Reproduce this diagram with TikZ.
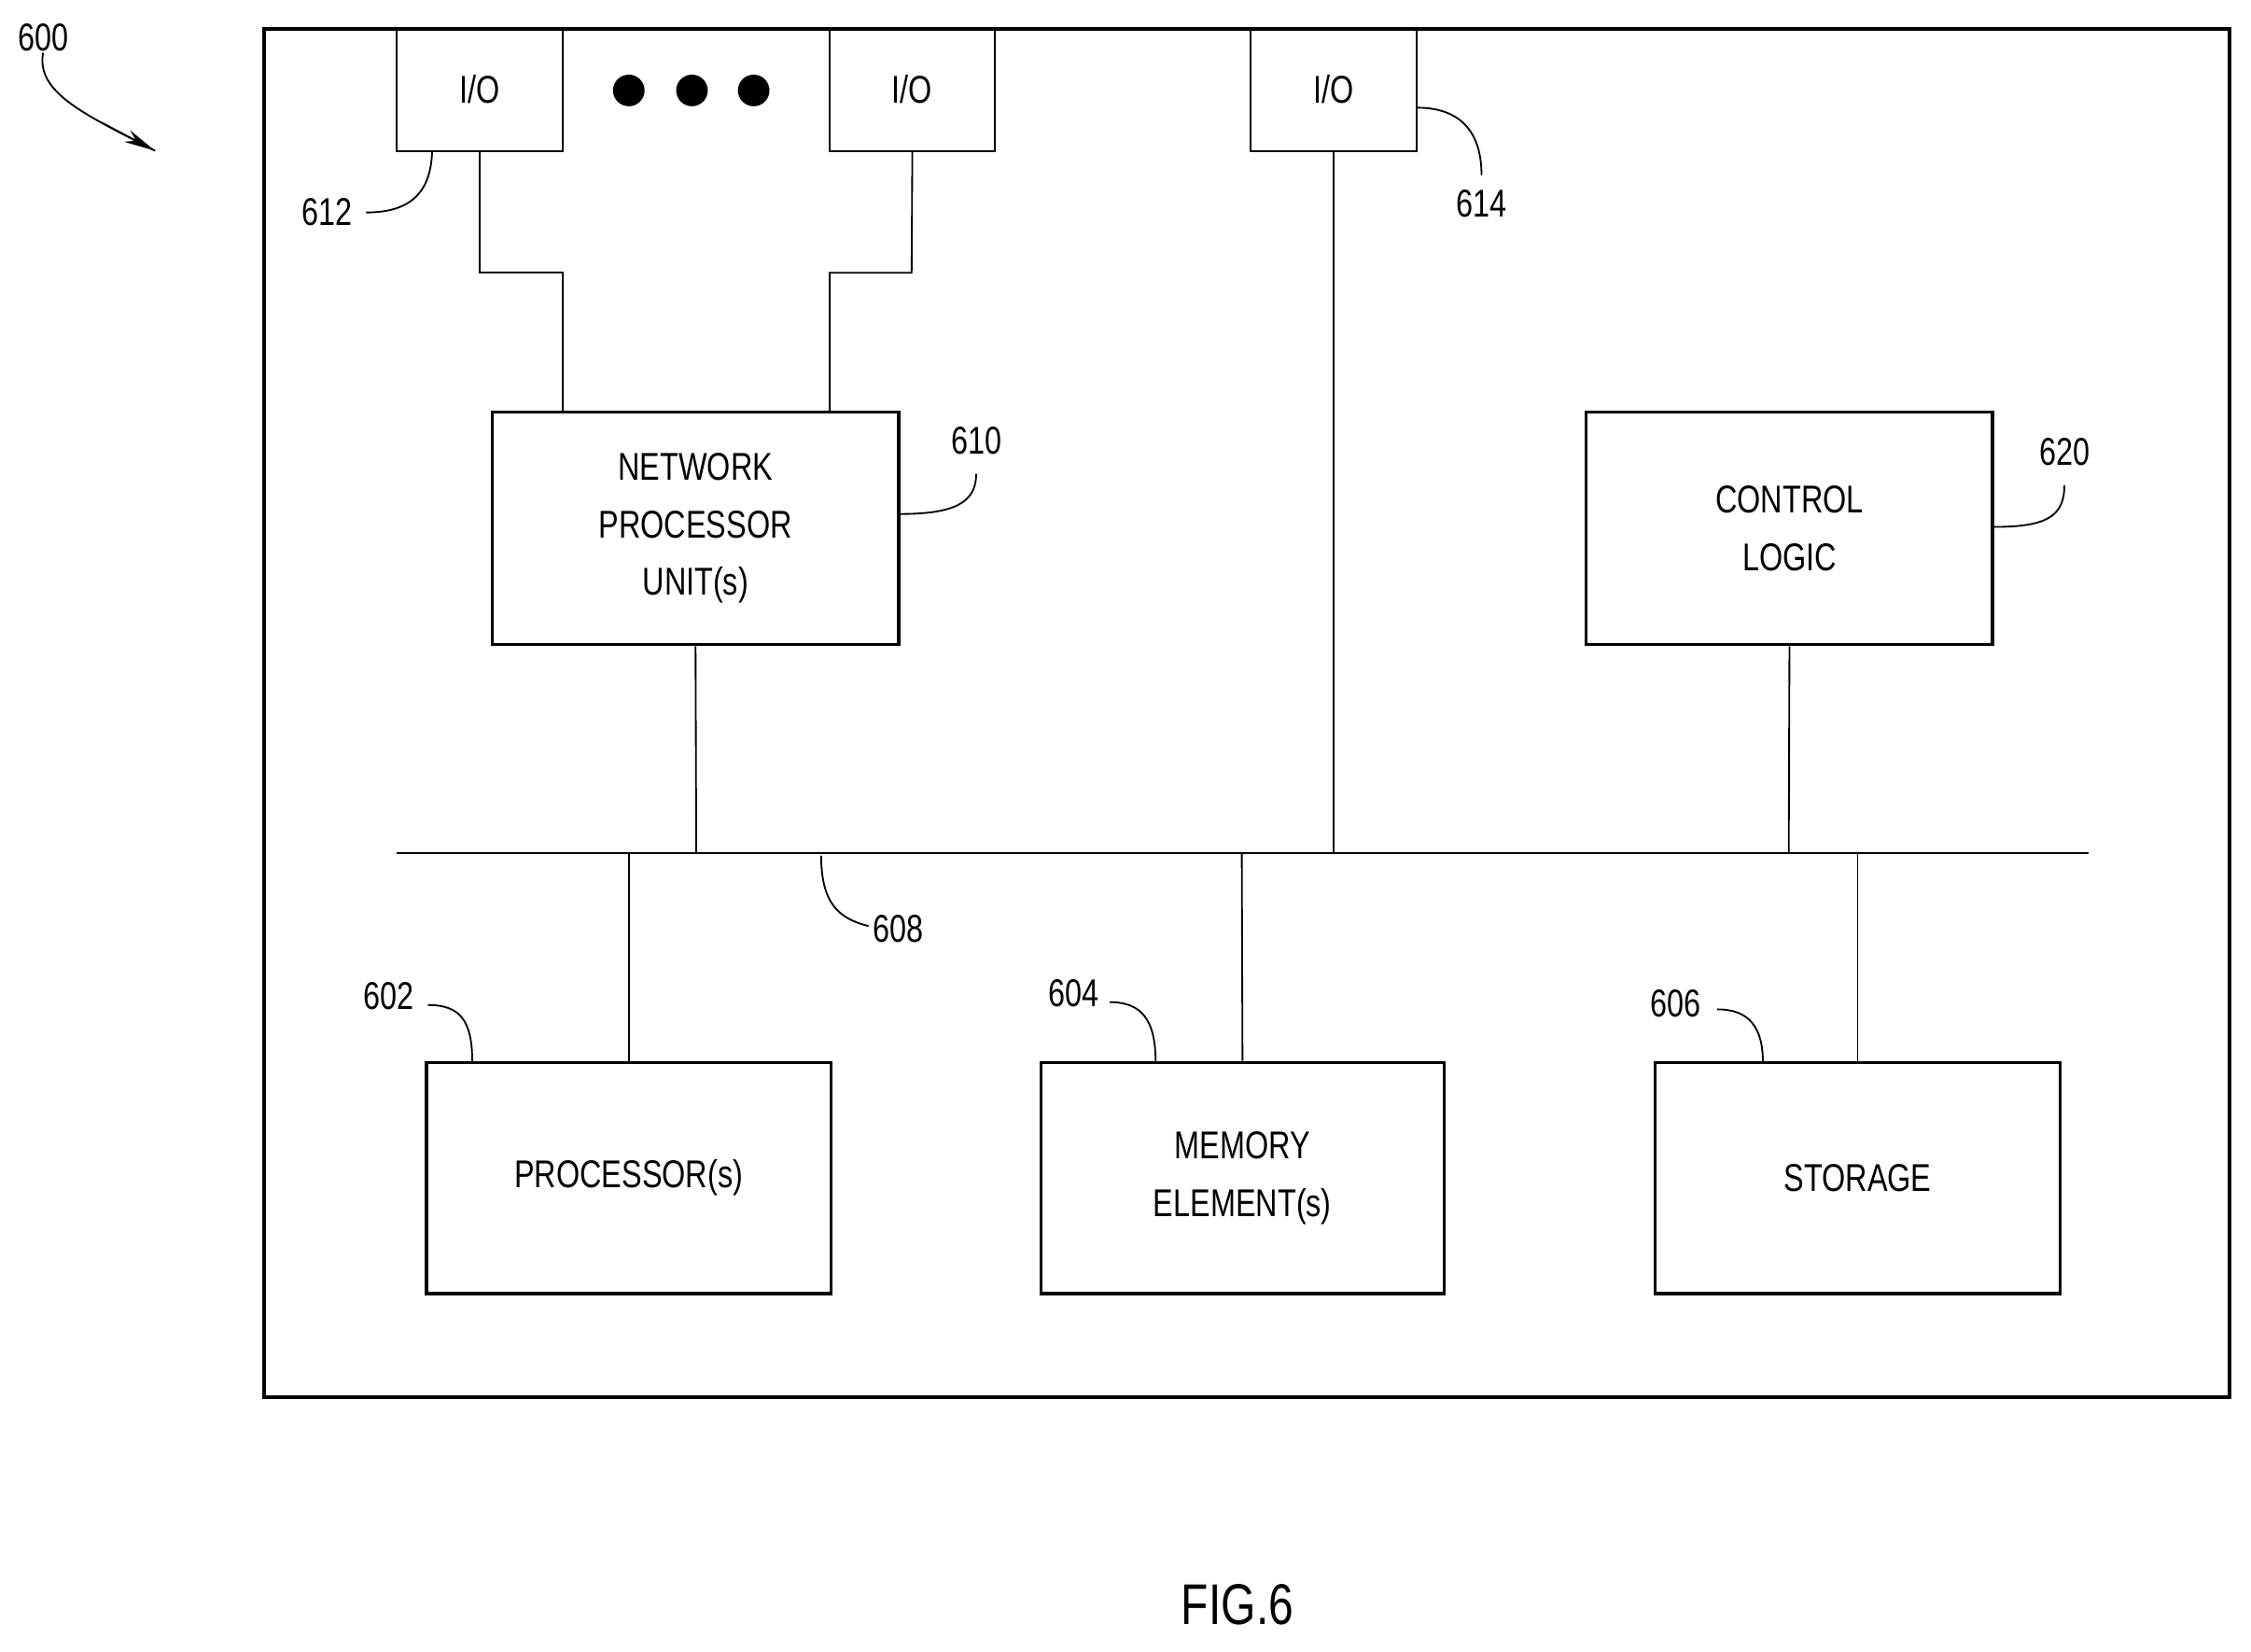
\documentclass[tikz,border=0pt]{standalone}
\usepackage{fontspec}
\setmainfont{Liberation Sans}[FakeStretch=0.78]
\usetikzlibrary{arrows.meta}
\begin{document}
\begin{tikzpicture}[x=1pt,y=-1pt,
  box/.style={draw,line width=2.2pt,align=center,font=\fontsize{27}{40}\selectfont,inner sep=0pt},
  io/.style={draw,line width=1.3pt,font=\fontsize{27}{30}\selectfont,inner sep=0pt},
  ln/.style={line width=1.2pt},
  lab/.style={font=\fontsize{27}{30}\selectfont,inner sep=1pt}]
\useasboundingbox (0,0) rectangle (1568,1150);
\draw[line width=2.5pt] (184,20) rectangle (1553,973);
% I/O
\node[io,minimum width=116pt,minimum height=85pt] (io1) at (334,62.5) {I/O};
\node[io,minimum width=115pt,minimum height=85pt] (io2) at (635.5,62.5) {I/O};
\node[io,minimum width=116pt,minimum height=85pt] (io3) at (929,62.5) {I/O};
\foreach \x/\n in {438/d1,482/d2,525/d3} \fill (\x,63) circle (11pt) coordinate (\n);
% boxes
\node[box,minimum width=283pt,minimum height=162pt] (npu) at (484.5,368) {NETWORK\\PROCESSOR\\UNIT(s)};
\node[box,minimum width=283pt,minimum height=162pt] (cl) at (1246.5,368) {CONTROL\\LOGIC};
\node[box,minimum width=282pt,minimum height=161pt] (proc) at (438,820.5) {PROCESSOR(s)};
\node[box,minimum width=281pt,minimum height=161pt] (mem) at (865.5,820.5) {MEMORY\\ELEMENT(s)};
\node[box,minimum width=282pt,minimum height=161pt] (sto) at (1294,820.5) {STORAGE};
% bus
\coordinate (b1) at (276,594); \coordinate (b2) at (1455,594);
\draw[ln] (b1) -- (b2);
\draw[ln] (io1.south) -- (334,190) -- (392,190) -- (392,287);
\draw[ln] (io2.south) -- (635,190) -- (578,190) -- (578,287);
\draw[ln] (io3.south) -- (929,594);
\draw[ln] (npu.south) -- (485,594);
\draw[ln] (cl.south) -- (1246,594);
\draw[ln] (proc.north) -- (438,594);
\draw[ln] (mem.north) -- (865,594);
\draw[ln] (sto.north) -- (1294,594);
% labels
\node[lab] (l600) at (30,26) {600};
\node[lab] (l612) at (228,148) {612};
\node[lab] (l614) at (1032,142) {614};
\node[lab] (l610) at (680,307) {610};
\node[lab] (l620) at (1438,315) {620};
\node[lab] (l602) at (271,694) {602};
\node[lab] (l604) at (748,692) {604};
\node[lab] (l606) at (1167,699) {606};
\node[lab] (l608) at (626,647) {608};
\node[font=\fontsize{40}{44}\selectfont] (fig) at (862,1118) {FIG.6};
\draw[ln] (l600.south) .. controls (25,65) and (60,80) .. (108,105);
\draw[-{Stealth[length=22pt,width=9pt]},line width=1.2pt] (70,85) -- (108,105);
\draw[ln] (255,148) .. controls (290,148) and (300,130) .. (301,106);
\draw[ln] (987,75) .. controls (1020,75) and (1032,95) .. (1032,122);
\draw[ln] (627,358) .. controls (665,358) and (680,350) .. (680,330);
\draw[ln] (1389,367) .. controls (1425,367) and (1438,360) .. (1438,338);
\draw[ln] (298,700) .. controls (320,700) and (329,710) .. (329,740);
\draw[ln] (773,698) .. controls (795,698) and (805,710) .. (805,740);
\draw[ln] (1196,703) .. controls (1218,703) and (1228,715) .. (1228,740);
\draw[ln] (572,596) .. controls (572,630) and (585,640) .. (605,645);
\end{tikzpicture}
\end{document}
